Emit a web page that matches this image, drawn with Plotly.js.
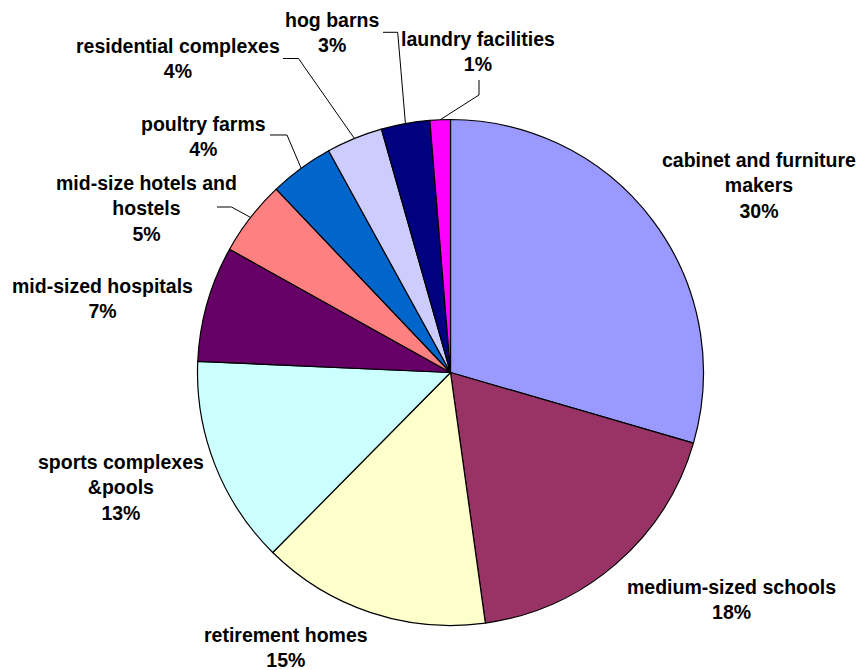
<!DOCTYPE html>
<html>
<head>
<meta charset="utf-8">
<script src="https://cdn.plot.ly/plotly-3.0.1.min.js"></script>
<style>
  html, body { margin: 0; padding: 0; background: #ffffff; }
  #chart { width: 860px; height: 670px; }
</style>
</head>
<body>
<div id="chart"></div>
<script>
// ---- data ----
var categories = [
  'cabinet and furniture makers',
  'medium-sized schools',
  'retirement homes',
  'sports complexes &pools',
  'mid-sized hospitals',
  'mid-size hotels and hostels',
  'poultry farms',
  'residential complexes',
  'hog barns',
  'laundry facilities'
];
var values = [29.5, 18.3, 14.6, 13.3, 7.4, 4.8, 4.1, 3.6, 3.1, 1.3];

// ---- style ----
var colors = ['#9999FF', '#993366', '#FFFFCC', '#CCFFFF', '#660066',
              '#FF8080', '#0066CC', '#CCCCFF', '#000080', '#FF00FF'];
var labelLines = [
  ['cabinet and furniture', 'makers'],
  ['medium-sized schools'],
  ['retirement homes'],
  ['sports complexes', '&pools'],
  ['mid-sized hospitals'],
  ['mid-size hotels and', 'hostels'],
  ['poultry farms'],
  ['residential complexes'],
  ['hog barns'],
  ['laundry facilities']
];
// label block centres in pixels
var labelPos = [
  [759, 185.5], [731, 599], [286, 647], [121, 487.5], [102.5, 298],
  [146, 208.5], [203, 137], [178, 58.5], [332, 32], [478, 51.5]
];
// leader-line elbow points (pixels), null = no leader line
var leaderPts = [
  null, null, null, null, null,
  [[217, 207], [231.5, 207]],
  [[270, 135], [287, 135]],
  [[283, 58.5], [298.5, 58.5]],
  [[383, 32.3], [397.7, 32.3]],
  [[479, 80], [479, 95]]
];

var W = 860, H = 670;
var CX = 450.5, CY = 372.5, R = 253;

function px2x(px) { return px / W; }
function py2y(py) { return 1 - py / H; }

var total = values.reduce(function (a, b) { return a + b; }, 0);

var trace = {
  type: 'pie',
  values: values,
  labels: categories,
  sort: false,
  direction: 'clockwise',
  rotation: 0,
  textinfo: 'none',
  hoverinfo: 'label+percent',
  showlegend: false,
  marker: { colors: colors, line: { color: '#000000', width: 1.2 } },
  domain: {
    x: [(CX - R) / W, (CX + R) / W],
    y: [(H - CY - R) / H, (H - CY + R) / H]
  }
};

var annotations = [];
var shapes = [];
var cum = 0;
for (var i = 0; i < values.length; i++) {
  var pct = Math.round(values[i] * 100 / total);
  var text = labelLines[i].concat([pct + '%']).join('<br>');
  annotations.push({
    x: px2x(labelPos[i][0]), y: py2y(labelPos[i][1]),
    xref: 'paper', yref: 'paper',
    xanchor: 'center', yanchor: 'middle',
    showarrow: false, align: 'center',
    text: text,
    font: { family: 'Liberation Sans, Arial, sans-serif', size: 19.5, color: '#000000', weight: 'bold' }
  });
  var mid = (cum + values[i] / 2) / total * 2 * Math.PI;
  cum += values[i];
  if (leaderPts[i]) {
    var rimX = CX + R * Math.sin(mid);
    var rimY = CY - R * Math.cos(mid);
    var pts = leaderPts[i].concat([[rimX, rimY]]);
    var path = pts.map(function (p, k) {
      return (k === 0 ? 'M ' : 'L ') + px2x(p[0]).toFixed(5) + ' ' + py2y(p[1]).toFixed(5);
    }).join(' ');
    shapes.push({
      type: 'path', xref: 'paper', yref: 'paper', path: path,
      line: { color: '#000000', width: 1 }
    });
  }
}

var layout = {
  width: W, height: H,
  margin: { l: 0, r: 0, t: 0, b: 0 },
  paper_bgcolor: '#ffffff',
  plot_bgcolor: '#ffffff',
  annotations: annotations,
  shapes: shapes
};

Plotly.newPlot('chart', [trace], layout, { displayModeBar: false, staticPlot: true });
</script>
</body>
</html>
